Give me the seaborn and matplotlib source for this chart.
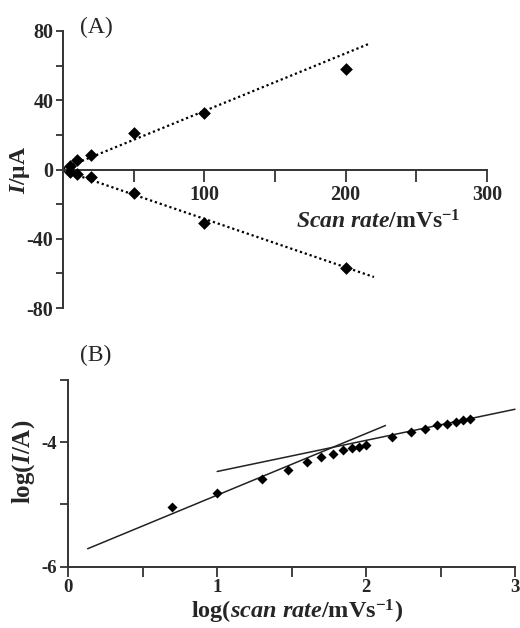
import numpy as np
import pandas as pd
import matplotlib
matplotlib.use("Agg")
import matplotlib.pyplot as plt
import seaborn as sns

# ---------------- data ----------------
# Panel A: peak current vs scan rate
scan_rate_a = [5, 10, 20, 50, 100, 200]
ipa = [2.3, 5.6, 8.5, 21.0, 32.5, 58.0]
ipc = [-1.2, -2.5, -4.4, -13.7, -31.0, -56.8]
# fitted straight lines (slope, intercept) drawn dotted
fit_a_slope = [0.333, -0.28]
fit_a_intercept = [0.5, -0.5]
fit_a_xmax = [216, 220]

# Panel B: log(I) vs log(scan rate)
scan_rate_b = [5, 10, 20, 30, 40, 50, 60, 70, 80, 90, 100,
               150, 200, 250, 300, 350, 400, 450, 500]
log_i_b = [-5.04, -4.82, -4.59, -4.44, -4.31, -4.24, -4.19, -4.13, -4.10,
           -4.07, -4.04, -3.92, -3.83, -3.78, -3.72, -3.70, -3.67, -3.65, -3.63]
fit_b_slope = [0.99, 0.50]
fit_b_intercept = [-5.84, -4.97]
fit_b_range = [(0.13, 2.13), (1.0, 3.0)]

# ---------------- style ----------------
sns.set_theme(style="white")
plt.rcParams["font.family"] = ["Liberation Serif", "DejaVu Serif"]
plt.rcParams["font.weight"] = "bold"
plt.rcParams["axes.unicode_minus"] = False
plt.rcParams["mathtext.fontset"] = "custom"
plt.rcParams["mathtext.rm"] = "Liberation Serif"
plt.rcParams["mathtext.it"] = "Liberation Serif:italic"
plt.rcParams["mathtext.bf"] = "Liberation Serif:bold"
plt.rcParams["mathtext.bfit"] = "Liberation Serif:bold:italic"

W, H = 520, 628
fig = plt.figure(figsize=(W / 100, H / 100), dpi=100)
fig.patch.set_facecolor("white")

def px(x0, y0, x1, y1):
    return [x0 / W, 1 - y1 / H, (x1 - x0) / W, (y1 - y0) / H]

spine_col = "#333333"

# ---------------- panel A ----------------
axA = fig.add_axes(px(63, 31, 487, 308))
dfA = pd.DataFrame({"rate": scan_rate_a * 2, "I": ipa + ipc,
                    "peak": ["a"] * len(ipa) + ["c"] * len(ipc)})
for k in range(2):
    xs = np.linspace(0, fit_a_xmax[k], 50)
    ys = fit_a_slope[k] * xs + fit_a_intercept[k]
    sns.lineplot(x=xs, y=ys, ax=axA, color="black", linestyle=(0, (1, 1.3)),
                 linewidth=1.6, clip_on=False)
sns.scatterplot(data=dfA, x="rate", y="I", ax=axA, marker="D", s=42,
                color="black", edgecolor="black", linewidth=0, clip_on=False,
                zorder=5, legend=False)
axA.set_xlim(0, 300)
axA.set_ylim(-80, 80)
axA.spines["top"].set_visible(False)
axA.spines["right"].set_visible(False)
axA.spines["bottom"].set_position(("data", 0))
for s in ("left", "bottom"):
    axA.spines[s].set_linewidth(1.4)
    axA.spines[s].set_color(spine_col)
axA.set_xticks([100, 200, 300])
axA.set_xticks([50, 150, 250], minor=True)
axA.set_yticks([-80, -40, 0, 40, 80])
axA.set_yticks([-60, -20, 20, 60], minor=True)
axA.tick_params(axis="x", which="both", direction="out", length=8.5, width=1.3,
                color=spine_col, labelsize=14.5, pad=3, bottom=True)
axA.tick_params(axis="y", which="both", direction="out", length=5, width=1.3,
                color=spine_col, labelsize=14.5, pad=2, left=True)
for t in axA.get_xticklabels() + axA.get_yticklabels():
    t.set_fontweight("bold")
axA.set_xlabel("")
axA.set_ylabel("")
axA.text(0.743, 0.312, r"$\mathbfit{Scan\ rate}\mathbf{/mVs^{-1}}$",
         transform=axA.transAxes, ha="center", va="center", fontsize=17)
fig.text(20 / W, 1 - 170 / H, r"$\mathbfit{I}\mathbf{/μA}$", rotation=90,
         ha="center", va="center", fontsize=17)
fig.text(96 / W, 1 - 27 / H, "(A)", ha="center", va="center", fontsize=17,
         fontweight="normal")

# ---------------- panel B ----------------
axB = fig.add_axes(px(68.3, 380, 515, 566.7))
dfB = pd.DataFrame({"logv": np.log10(scan_rate_b), "logI": log_i_b})
for k in range(2):
    xs = np.linspace(fit_b_range[k][0], fit_b_range[k][1], 50)
    ys = fit_b_slope[k] * xs + fit_b_intercept[k]
    sns.lineplot(x=xs, y=ys, ax=axB, color="#222222", linewidth=1.1, clip_on=False)
sns.scatterplot(data=dfB, x="logv", y="logI", ax=axB, marker="D", s=26,
                color="black", edgecolor="black", linewidth=0, zorder=5,
                clip_on=False, legend=False)
axB.set_xlim(0, 3)
axB.set_ylim(-6, -3)
axB.spines["top"].set_visible(False)
axB.spines["right"].set_visible(False)
for s in ("left", "bottom"):
    axB.spines[s].set_linewidth(1.4)
    axB.spines[s].set_color(spine_col)
axB.set_xticks([0, 1, 2, 3])
axB.set_xticks([0.5, 1.5, 2.5], minor=True)
axB.set_yticks([-6, -4])
axB.set_yticks([-5, -3], minor=True)
axB.tick_params(axis="x", which="both", direction="out", length=7, width=1.3,
                color=spine_col, labelsize=13.5, pad=2, bottom=True)
axB.tick_params(axis="y", which="both", direction="out", length=6, width=1.3,
                color=spine_col, labelsize=13.5, pad=2, left=True)
for t in axB.get_xticklabels() + axB.get_yticklabels():
    t.set_fontweight("bold")
axB.set_xlabel("")
axB.set_ylabel("")
fig.text(297 / W, 1 - 612 / H, r"$\mathbf{log(}\mathbfit{scan\ rate}\mathbf{/mVs^{-1})}$",
         ha="center", va="center", fontsize=17.5)
fig.text(24 / W, 1 - 462 / H, r"$\mathbf{log(}\mathbfit{I}\mathbf{/A)}$", rotation=90,
         ha="center", va="center", fontsize=18)
fig.text(96 / W, 1 - 355 / H, "(B)", ha="center", va="center", fontsize=17,
         fontweight="normal")

fig.savefig("out.png", dpi=100, facecolor="white")
